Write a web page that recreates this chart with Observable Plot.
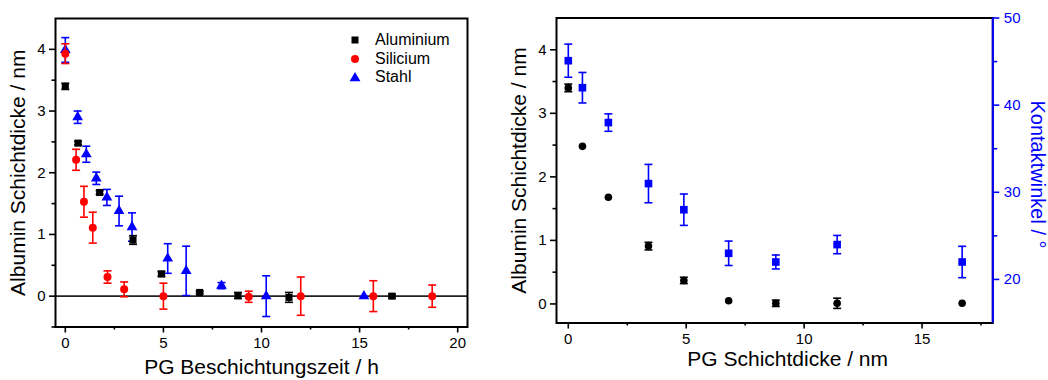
<!DOCTYPE html>
<html>
<head>
<meta charset="utf-8">
<script src="https://cdn.jsdelivr.net/npm/d3@7"></script>
<script src="https://cdn.jsdelivr.net/npm/@observablehq/plot@0.6"></script>
<style>
  html, body { margin: 0; padding: 0; background: #fff; }
  #wrap { position: relative; width: 1048px; height: 380px; overflow: hidden; font-family: 'Liberation Sans', Arial, Helvetica, sans-serif; }
  #wrap > svg, #wrap > div.p { position: absolute; top: 0; }
  .legend { position: absolute; left: 348px; top: 31px; font-size: 16px; color: #000; line-height: 18.5px; }
  .legend div { display: flex; align-items: center; height: 18.5px; }
  .legend svg { width: 14px; height: 14px; margin-right: 13px; }
</style>
</head>
<body>
<div id="wrap"></div>
<script>
// ---------- Left panel data: Albumin thickness vs PG coating time ----------
const aluTime  = [0, 0.65, 1.75, 3.45, 4.9, 6.85, 8.8, 11.4, 16.65];
const aluThick = [3.4, 2.48, 1.68, 0.91, 0.36, 0.06, 0.01, -0.02, 0];
const aluErr   = [0.05, 0.03, 0.03, 0.07, 0.04, 0.02, 0.05, 0.08, 0.03];

const siTime  = [0, 0.55, 0.95, 1.4, 2.15, 3.0, 5.0, 9.35, 12.0, 15.7, 18.7];
const siThick = [3.93, 2.21, 1.53, 1.11, 0.31, 0.11, 0, -0.01, 0, 0, 0];
const siErr   = [0.16, 0.17, 0.25, 0.25, 0.1, 0.12, 0.21, 0.09, 0.31, 0.25, 0.18];

const stTime  = [0, 0.63, 1.07, 1.58, 2.12, 2.74, 3.4, 5.22, 6.16, 7.96, 10.24, 15.22];
const stThick = [3.99, 2.9, 2.3, 1.91, 1.6, 1.38, 1.12, 0.61, 0.41, 0.17, 0, 0];
const stErr   = [0.2, 0.1, 0.13, 0.1, 0.13, 0.24, 0.23, 0.24, 0.4, 0.05, 0.33, 0];

const legendNames = ["Aluminium", "Silicium", "Stahl"];

// ---------- Right panel data: vs PG layer thickness ----------
const pgThick   = [0, 0.6, 1.7, 3.4, 4.9, 6.8, 8.8, 11.4, 16.7];
const albThick  = [3.4, 2.48, 1.68, 0.91, 0.37, 0.05, 0.01, 0.01, 0.01];
const albErr    = [0.06, 0, 0, 0.06, 0.05, 0, 0.05, 0.08, 0];
const angle     = [45.1, 42.0, 38.0, 31.0, 28.0, 23.0, 22.0, 24.0, 22.0];
const angleErr  = [1.9, 1.75, 1.0, 2.2, 1.8, 1.4, 0.8, 1.05, 1.8];

// ---------- Axes / labels ----------
const xMajorL = [0, 5, 10, 15, 20];
const xMinorL = [2.5, 7.5, 12.5, 17.5];
const xMajorR = [0, 5, 10, 15];
const xMinorR = [2.5, 7.5, 12.5, 17.5];
const yMajor = [0, 1, 2, 3, 4];
const yMinor = [-0.5, 0.5, 1.5, 2.5, 3.5];
const yMinorR = [0.5, 1.5, 2.5, 3.5];
const angMajor = [20, 30, 40, 50];
const angMinor = [25, 35, 45];
const xDomL = [-0.5, 20.5], yDomL = [-0.5, 4.5];
const xDomR = [-0.5, 18], yDomR = [-0.3, 4.5], angDom = [15, 50];
const yTitle = "Albumin Schichtdicke / nm";
const xTitleL = "PG Beschichtungszeit / h";
const xTitleR = "PG Schichtdicke / nm";
const angTitle = "Kontaktwinkel / °";

const font = "'Liberation Sans', Arial, Helvetica, sans-serif";
const fmt = d => String(d);
const cap = { draw(ctx) { ctx.moveTo(-4, 0); ctx.lineTo(4, 0); } };

function series(xs, ys, es, color, symbol, r) {
  const rows = xs.map((x, i) => ({x, y: ys[i], e: es[i]}));
  const err = rows.filter(d => d.e > 0);
  return [
    Plot.ruleX(err, {x: "x", y1: d => d.y - d.e, y2: d => d.y + d.e, stroke: color, strokeWidth: 1.6}),
    Plot.dot(err, {x: "x", y: d => d.y - d.e, symbol: cap, fill: "none", stroke: color, strokeWidth: 1.6}),
    Plot.dot(err, {x: "x", y: d => d.y + d.e, symbol: cap, fill: "none", stroke: color, strokeWidth: 1.6}),
    Plot.dot(rows, {x: "x", y: "y", symbol, fill: color, stroke: "none", r})
  ];
}

function yAxes(minor) {
  return [
    Plot.axisY({ticks: yMajor, tickFormat: fmt, tickSize: 6, tickPadding: 4, strokeWidth: 1.6, fontSize: 15, label: null}),
    Plot.axisY({ticks: minor, tickSize: 3.5, tickFormat: () => "", strokeWidth: 1.6, label: null})
  ];
}
function xAxes(major, minor) {
  return [
    Plot.axisX({ticks: major, tickFormat: fmt, tickSize: 6, tickPadding: 4, strokeWidth: 1.6, fontSize: 15, label: null}),
    Plot.axisX({ticks: minor, tickSize: 3, tickFormat: () => "", strokeWidth: 1.6, label: null})
  ];
}
const titleOpts = {text: d => d, fontSize: 21, fontFamily: font, textAnchor: "middle", lineAnchor: "middle"};
const baseStyle = {fontFamily: font, fontSize: "15px", color: "black", background: "transparent", overflow: "visible"};

const left = Plot.plot({
  width: 500, height: 380,
  marginLeft: 55, marginRight: 33, marginTop: 18, marginBottom: 53.5,
  x: {domain: xDomL}, y: {domain: yDomL},
  style: baseStyle,
  marks: [
    Plot.ruleY([0], {stroke: "#222", strokeWidth: 1.6}),
    ...series(stTime, stThick, stErr, "#0000ff", "triangle", 4),
    ...series(aluTime, aluThick, aluErr, "#000000", "square", 4),
    ...series(siTime, siThick, siErr, "#ff0000", "circle", 4),
    Plot.frame({stroke: "black", strokeWidth: 2}),
    ...xAxes(xMajorL, xMinorL),
    ...yAxes(yMinor),
    Plot.text([xTitleL], {...titleOpts, frameAnchor: "bottom", dy: 40}),
    Plot.text([yTitle], {...titleOpts, frameAnchor: "left", dx: -37.5, rotate: -90})
  ]
});
left.style.left = "0px";

const right = Plot.plot({
  width: 548, height: 380,
  marginLeft: 56, marginRight: 55.7, marginTop: 17.5, marginBottom: 57.5,
  x: {domain: xDomR}, y: {domain: yDomR},
  style: baseStyle,
  marks: [
    ...series(pgThick, albThick, albErr, "#000000", "circle", 3.8),
    Plot.frame({stroke: "black", strokeWidth: 2}),
    ...xAxes(xMajorR, xMinorR),
    ...yAxes(yMinorR),
    Plot.text([xTitleR], {...titleOpts, frameAnchor: "bottom", dx: 13, dy: 36}),
    Plot.text([yTitle], {...titleOpts, frameAnchor: "left", dx: -37.5, rotate: -90})
  ]
});
right.style.left = "500px";

const overlay = Plot.plot({
  width: 548, height: 380,
  marginLeft: 56, marginRight: 55.7, marginTop: 17.5, marginBottom: 57.5,
  x: {domain: xDomR, axis: null}, y: {domain: angDom},
  style: {...baseStyle, color: "#0000ff"},
  marks: [
    Plot.ruleX([xDomR[1]], {stroke: "#0000ff", strokeWidth: 2}),
    ...series(pgThick, angle, angleErr, "#0000ff", "square", 4.3),
    Plot.axisY({anchor: "right", ticks: angMajor, tickFormat: fmt, tickSize: 6, tickPadding: 5, strokeWidth: 1.6, fontSize: 15, label: null, color: "#0000ff"}),
    Plot.axisY({anchor: "right", ticks: angMinor, tickSize: 4, tickFormat: () => "", strokeWidth: 1.6, label: null, color: "#0000ff"}),
    Plot.text([angTitle], {...titleOpts, fontSize: 20, frameAnchor: "right", dx: 44.5, dy: 4, rotate: 90, fill: "#0000ff"})
  ]
});
overlay.style.left = "500px";

const wrap = document.getElementById("wrap");
wrap.append(left, right, overlay);

// Legend (left panel)
const legendColors = ["#000000", "#ff0000", "#0000ff"];
const legendShapes = [
  c => `<rect x="3.5" y="3.5" width="7" height="7" fill="${c}"/>`,
  c => `<circle cx="7" cy="7" r="4" fill="${c}"/>`,
  c => `<path d="M7 2 L12.4 11.3 L1.6 11.3 Z" fill="${c}"/>`
];
const lg = document.createElement("div");
lg.className = "legend";
lg.innerHTML = legendNames.map((n, i) =>
  `<div><svg viewBox="0 0 14 14">${legendShapes[i](legendColors[i])}</svg><span>${n}</span></div>`).join("");
wrap.append(lg);
</script>
</body>
</html>
